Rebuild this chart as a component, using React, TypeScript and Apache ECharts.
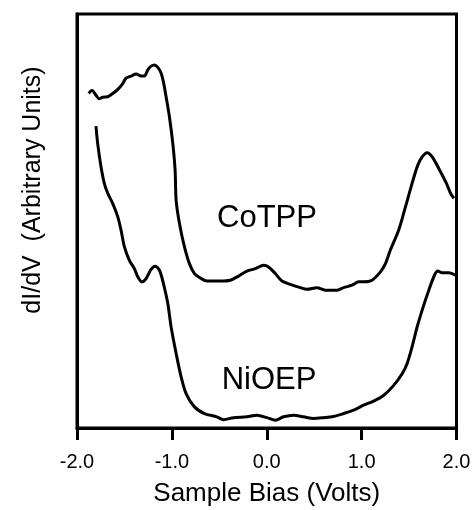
import React, { useEffect, useRef } from "react";
import * as echarts from "echarts";

// Sample bias (V) and dI/dV (arbitrary units)
const coTppBias = [
  -1.877, -1.842, -1.8, -1.765, -1.729, -1.676, -1.623, -1.57, -1.518, -1.483,
  -1.43, -1.377, -1.325, -1.29, -1.254, -1.219, -1.184, -1.148, -1.113, -1.089,
  -1.061, -1.026, -0.99, -0.966, -0.955, -0.92, -0.868, -0.815, -0.762, -0.691,
  -0.631, -0.491, -0.385, -0.298, -0.209, -0.121, -0.034, 0.019, 0.09, 0.16,
  0.248, 0.354, 0.424, 0.53, 0.617, 0.741, 0.811, 0.899, 0.969, 1.022, 1.11,
  1.198, 1.251, 1.303, 1.391, 1.462, 1.532, 1.592, 1.638, 1.691, 1.744, 1.813,
  1.894, 1.937, 1.972,
];
const coTppSignal = [
  80.8, 81.5, 80.4, 79.5, 79.9, 80.0, 80.8, 81.8, 83.2, 84.5,
  85.0, 85.5, 85.0, 85.0, 86.5, 87.4, 87.7, 87.1, 85.7, 83.6,
  80.0, 75.2, 68.7, 62.3, 55.0, 49.4, 43.8, 39.7, 37.3, 36.1,
  35.5, 35.5, 35.7, 36.7, 37.9, 38.5, 39.3, 38.9, 37.3, 35.5,
  34.7, 33.9, 33.5, 33.9, 33.3, 33.3, 33.9, 34.5, 35.3, 35.3, 35.7,
  37.7, 39.7, 43.0, 47.8, 53.4, 59.1, 63.5, 65.5, 66.5, 65.5, 62.7,
  59.1, 56.7, 55.5,
];

const niOepBias = [
  -1.8, -1.782, -1.747, -1.712, -1.676, -1.623, -1.57, -1.536, -1.501, -1.448,
  -1.395, -1.359, -1.317, -1.272, -1.219, -1.177, -1.131, -1.089, -1.043, -1.008,
  -0.955, -0.902, -0.85, -0.762, -0.656, -0.526, -0.456, -0.35, -0.209, -0.103,
  0.002, 0.09, 0.177, 0.283, 0.388, 0.494, 0.599, 0.705, 0.811, 0.916, 1.022,
  1.127, 1.233, 1.338, 1.427, 1.48, 1.532, 1.585, 1.648, 1.708, 1.768, 1.803,
  1.849, 1.919, 1.989,
];
const niOepSignal = [
  72.9, 68.7, 63.1, 59.1, 56.7, 54.2, 51.0, 47.8, 43.8, 40.5,
  38.5, 36.5, 35.3, 36.1, 38.3, 39.1, 38.1, 34.9, 30.1, 24.4,
  18.0, 12.3, 8.3, 5.1, 3.5, 2.7, 2.0, 2.5, 2.7, 3.1,
  2.5, 1.9, 2.7, 3.1, 2.7, 2.3, 2.5, 2.8, 3.5, 4.3, 5.5,
  6.5, 7.9, 10.3, 13.1, 15.6, 19.6, 24.4, 29.2, 33.3, 36.9, 37.9,
  37.5, 37.5, 36.9,
];

const xTicks = [-2, -1, 0, 1, 2];
const yRange = [0, 100];
const seriesNames = ["CoTPP", "NiOEP"];
const xTitle = "Sample Bias (Volts)";
const yTitle = "dI/dV  (Arbitrary Units)";

const FONT = "'Liberation Sans', Arial, Helvetica, sans-serif";

export default function App() {
  const ref = useRef<HTMLDivElement>(null);

  useEffect(() => {
    if (!ref.current) return;
    const chart = echarts.init(ref.current, null, { renderer: "svg" });
    const zip = (xs: number[], ys: number[]) => xs.map((x, i) => [x, ys[i]]);
    chart.setOption({
      animation: false,
      grid: {
        left: 77,
        right: 17.5,
        top: 14,
        bottom: 82,
        containLabel: false,
        outerBoundsMode: "none",
        show: true,
        borderColor: "#000000",
        borderWidth: 3,
      },
      xAxis: {
        type: "value",
        position: "bottom",
        min: xTicks[0],
        max: xTicks[xTicks.length - 1],
        interval: 1,
        name: xTitle,
        nameLocation: "middle",
        nameGap: 51,
        nameTextStyle: { fontFamily: FONT, fontSize: 26, color: "#000000" },
        axisLine: { show: true, onZero: false, lineStyle: { color: "#000000", width: 3 } },
        axisTick: { show: true, inside: false, length: 12, lineStyle: { color: "#000000", width: 3 } },
        axisLabel: {
          show: true,
          margin: 23,
          fontFamily: FONT,
          fontSize: 20,
          color: "#000000",
          formatter: (v: number) => v.toFixed(1),
        },
        splitLine: { show: false },
      },
      yAxis: {
        type: "value",
        position: "left",
        min: yRange[0],
        max: yRange[1],
        axisLine: { show: true, onZero: false, lineStyle: { color: "#000000", width: 3 } },
        axisTick: { show: false },
        axisLabel: { show: false },
        splitLine: { show: false },
      },
      series: [
        {
          name: seriesNames[0],
          type: "line",
          data: zip(coTppBias, coTppSignal),
          smooth: 0.3,
          symbol: "none",
          lineStyle: { color: "#000000", width: 3 },
        },
        {
          name: seriesNames[1],
          type: "line",
          data: zip(niOepBias, niOepSignal),
          smooth: 0.3,
          symbol: "none",
          lineStyle: { color: "#000000", width: 3 },
        },
      ],
      graphic: [
        {
          type: "text",
          x: 31,
          y: 190,
          rotation: Math.PI / 2,
          style: {
            text: yTitle,
            fontFamily: FONT,
            fontSize: 25,
            fill: "#000000",
            align: "center",
            verticalAlign: "middle",
          },
        },
        {
          type: "text",
          x: 267,
          y: 216,
          style: {
            text: seriesNames[0],
            fontFamily: FONT,
            fontSize: 31,
            fill: "#000000",
            align: "center",
            verticalAlign: "middle",
          },
        },
        {
          type: "text",
          x: 269,
          y: 378,
          style: {
            text: seriesNames[1],
            fontFamily: FONT,
            fontSize: 31,
            fill: "#000000",
            align: "center",
            verticalAlign: "middle",
          },
        },
      ],
    });
    return () => chart.dispose();
  }, []);

  return (
    <div ref={ref} style={{ position: "fixed", left: 0, top: 0, width: 474, height: 510 }} />
  );
}
